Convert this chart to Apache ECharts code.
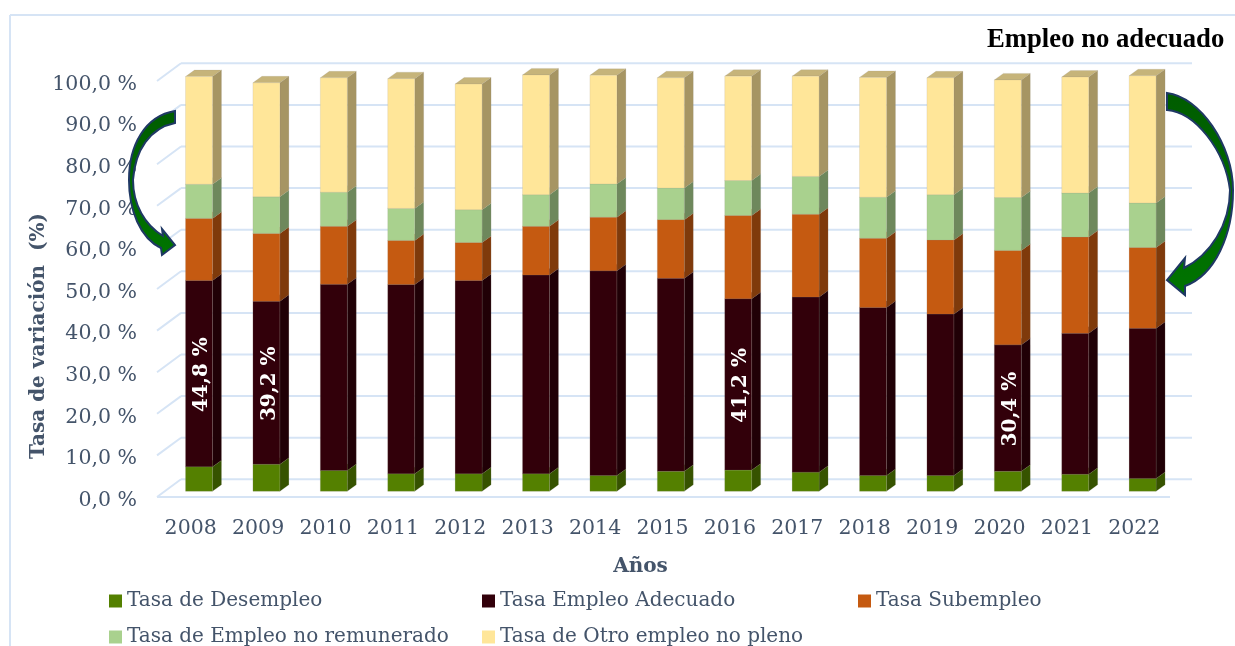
<!DOCTYPE html>
<html><head><meta charset="utf-8">
<style>html,body{margin:0;padding:0;background:#fff}#c{width:1235px;height:646px}</style>
<script src="https://cdn.jsdelivr.net/npm/echarts@6/dist/echarts.min.js"></script>
</head><body><div id="c"></div>
<script>
const years = ['2008','2009','2010','2011','2012','2013','2014','2015','2016','2017','2018','2019','2020','2021','2022'];
const desempleo = [5.9,6.5,5.0,4.2,4.2,4.2,3.8,4.8,5.1,4.6,3.8,3.8,4.8,4.1,3.1];
const adecuado  = [44.8,39.2,44.8,45.5,46.5,47.8,49.2,46.4,41.2,42.1,40.4,38.8,30.4,33.9,36.1];
const subempleo = [14.9,16.3,13.9,10.6,9.1,11.7,12.9,14.1,20.0,19.9,16.6,17.8,22.7,23.1,19.4];
const noRemun   = [8.2,8.8,8.2,7.7,7.9,7.6,8.0,7.6,8.4,9.1,9.9,10.9,12.7,10.6,10.7];
const otroEmpleo= [25.9,27.4,27.5,31.2,30.2,28.8,26.1,26.5,25.1,24.1,28.8,28.1,28.3,27.9,30.6];
const labelledYears = ['2008','2009','2016','2020'];
const yTicks = [0,10,20,30,40,50,60,70,80,90,100];

const TXT = '#44546a', FONT = '"DejaVu Serif"';
const seriesDefs = [
  {name:'Tasa de Desempleo', values:desempleo, color:'#548000', side:'#365300', top:'#6d9a1f'},
  {name:'Tasa Empleo Adecuado', values:adecuado, color:'#32000a', side:'#200006', top:'#4a1a22'},
  {name:'Tasa Subempleo', values:subempleo, color:'#c55a11', side:'#7f3a0b', top:'#d47c40'},
  {name:'Tasa de Empleo no remunerado', values:noRemun, color:'#a9d18e', side:'#6e885c', top:'#bcdca6'},
  {name:'Tasa de Otro empleo no pleno', values:otroEmpleo, color:'#ffe699', side:'#a69563', top:'#c6b47a'}
];
// 3D projection of the chart box
const WALL = [24, -17.7], BAR_PLANE = [8.3, -5.7], BAR_DEPTH = [9, -6.5], BAR_RATIO = 0.4;

let cum = years.map(() => 0);
const barSeries = seriesDefs.map((s, si) => {
  const data = s.values.map((v, i) => { const a = cum[i]; cum[i] += v; return [i, a, cum[i]]; });
  return {
    type:'custom', name:s.name, itemStyle:{color:s.color}, z:3,
    encode:{x:0, y:[1,2]}, data,
    renderItem(params, api){
      const i = api.value(0), a = api.coord([i, api.value(1)]), b = api.coord([i, api.value(2)]);
      const w = api.size([1,0])[0] * BAR_RATIO;
      const x0 = a[0] + BAR_PLANE[0] - w/2, x1 = x0 + w;
      const y0 = a[1] + BAR_PLANE[1], y1 = b[1] + BAR_PLANE[1];
      const dx = BAR_DEPTH[0], dy = BAR_DEPTH[1];
      const poly = (pts, fill) => ({type:'polygon', shape:{points:pts}, style:{fill, stroke:'rgba(150,140,135,0.25)', lineWidth:0.6}});
      const children = [
        poly([[x1,y0],[x1+dx,y0+dy],[x1+dx,y1+dy],[x1,y1]], s.side),
        poly([[x0,y1],[x1,y1],[x1+dx,y1+dy],[x0+dx,y1+dy]], s.top),
        poly([[x0,y0],[x1,y0],[x1,y1],[x0,y1]], s.color)
      ];
      if (si === 1 && labelledYears.includes(years[i])) {
        const txt = adecuado[i].toFixed(1).replace('.', ',') + ' %';
        children.push({type:'text', x:(x0+x1)/2 + 3, y:(y0+y1)/2 + 1, rotation:Math.PI/2,
          style:{text:txt, fill:'#fff', font:'bold 20px '+FONT, align:'center', verticalAlign:'middle'}});
      }
      return {type:'group', children};
    }
  };
});

const wallSeries = {
  type:'custom', name:'pared', silent:true, z:1, legendHoverLink:false,
  encode:{y:0}, data:yTicks.map(t => [t]),
  renderItem(params, api){
    const t = api.value(0), band = api.size([1,0])[0];
    const p0 = api.coord([0, t]), p1 = api.coord([years.length-1, t]);
    const xl = p0[0] - band/2, xr = p1[0] + band/2, y = p0[1];
    const st = {stroke:'#d6e4f5', lineWidth:2, fill:null};
    const ln = (x1,y1,x2,y2) => ({type:'line', shape:{x1,y1,x2,y2}, style:st});
    const c = [
      ln(xl,y,xl+WALL[0],y+WALL[1]),
      ln(xl+WALL[0],y+WALL[1],xr+WALL[0],y+WALL[1])
    ];
    if (t === 0) c.push(ln(xl,y,xr+2,y));
    return {type:'group', children:c};
  }
};

const arrowPaths = [
  'M175 111 L175 123 C150 128 135 150 133 180 C133 205 145 225 163 236 L162 229 L175 245 L162 255 L161 248 C140 238 129 210 129 180 C129 145 145 116 175 111 Z',
  'M1167 93 L1167 110 C1195 112 1225 150 1230 190 C1230 225 1210 255 1184 268 L1185 258 L1167 280 L1185 295 L1185 286 C1215 275 1233 235 1233 190 C1233 145 1200 97 1167 93 Z'
];
const arrowSeries = {
  type:'custom', name:'flechas', coordinateSystem:'none', silent:true, z:10, data:[[0],[1]],
  renderItem(params){
    return {type:'path', shape:{pathData:arrowPaths[params.dataIndex]},
      style:{fill:{type:'linear',x:0,y:0,x2:0,y2:1,colorStops:[{offset:0,color:'#005c00'},{offset:1,color:'#007400'}]}, stroke:'#1f3864', lineWidth:2}};
  }
};

const legendBase = {orient:'horizontal', icon:'rect', itemWidth:13, itemHeight:13, selectedMode:false, padding:0,
  textStyle:{color:TXT, fontFamily:FONT, fontSize:20}};
const legendSpots = [[109,591],[482,591],[858,591],[109,627],[482,627]];
const legendOrder = [0,1,2,3,4];

const chart = echarts.init(document.getElementById('c'), null, {renderer:'canvas'});
chart.setOption({
  animation:false,
  backgroundColor:'#fff',
  title:{text:'Empleo no adecuado', left:982, top:22, textStyle:{fontFamily:'"Liberation Serif"', fontWeight:'bold', fontSize:26.7, color:'#000'}},
  legend:legendOrder.map((k,n) => Object.assign({}, legendBase, {left:legendSpots[n][0], top:legendSpots[n][1], data:[seriesDefs[k].name]})),
  grid:{left:157, top:81, width:1011, height:416, containLabel:false},
  xAxis:{type:'category', data:years, name:'Años', nameLocation:'middle', nameGap:60, nameMoveOverlap:false,
    nameTextStyle:{color:TXT, fontFamily:FONT, fontWeight:'bold', fontSize:20, padding:[0,44,0,0]},
    axisLine:{show:false}, axisTick:{show:false}, splitLine:{show:false},
    axisLabel:{color:TXT, fontFamily:FONT, fontSize:20.5, margin:21, interval:0}},
  yAxis:{type:'value', min:0, max:100, interval:10,
    name:'Tasa de variación  (%)', nameLocation:'middle', nameGap:108, nameRotate:90, nameMoveOverlap:false,
    nameTextStyle:{color:TXT, fontFamily:FONT, fontWeight:'bold', fontSize:20, padding:[0,94,0,0]},
    axisLine:{show:false}, axisTick:{show:false}, splitLine:{show:false},
    axisLabel:{margin:20, formatter:v => '{t|' + v + ',0 %}',
      rich:{t:{color:TXT, fontFamily:FONT, fontSize:20.5, padding:[7,0,0,0]}}}},
  series:[wallSeries].concat(barSeries, [arrowSeries]),
  graphic:[
    {type:'line', silent:true, z:0, shape:{x1:10,y1:15,x2:1235,y2:15}, style:{stroke:'#d6e4f5', lineWidth:2}},
    {type:'line', silent:true, z:0, shape:{x1:10,y1:15,x2:10,y2:646}, style:{stroke:'#d6e4f5', lineWidth:2}}
  ]
});
</script></body></html>
